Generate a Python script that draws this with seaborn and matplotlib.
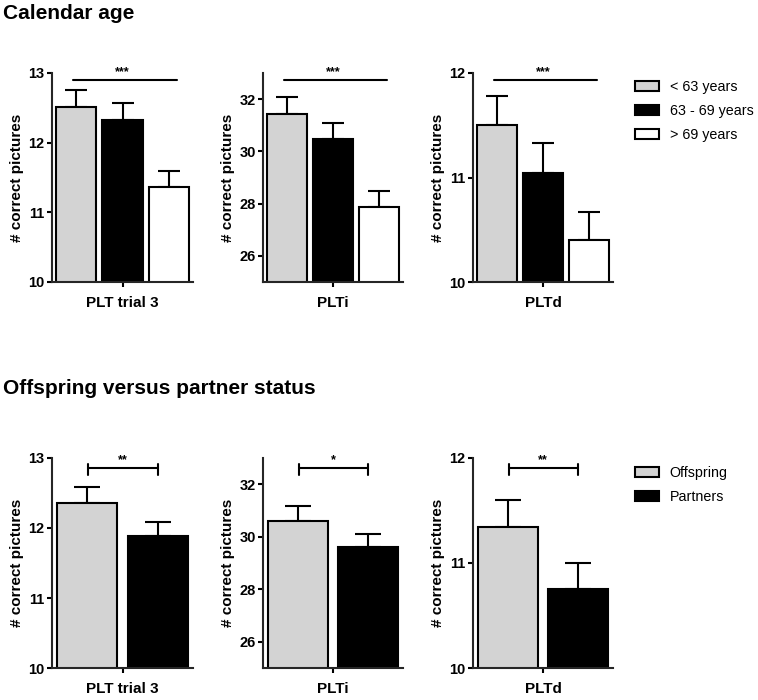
import matplotlib
matplotlib.use("Agg")
import matplotlib.pyplot as plt
import matplotlib.patches as mpatches
import seaborn as sns
import pandas as pd

# ---------------- data ----------------
tests = ["PLT trial 3", "PLTi", "PLTd"]

age_groups = ["< 63 years", "63 - 69 years", "> 69 years"]
age_colors = ["#D3D3D3", "#000000", "#FFFFFF"]
age_trial3_mean = [12.51, 12.33, 11.37]
age_trial3_sem = [0.25, 0.24, 0.22]
age_plti_mean = [31.44, 30.47, 27.86]
age_plti_sem = [0.66, 0.63, 0.61]
age_pltd_mean = [11.50, 11.04, 10.40]
age_pltd_sem = [0.28, 0.29, 0.27]
age_sig = ["***", "***", "***"]

status_groups = ["Offspring", "Partners"]
status_colors = ["#D3D3D3", "#000000"]
status_trial3_mean = [12.35, 11.88]
status_trial3_sem = [0.23, 0.21]
status_plti_mean = [30.60, 29.59]
status_plti_sem = [0.57, 0.51]
status_pltd_mean = [11.34, 10.75]
status_pltd_sem = [0.26, 0.25]
status_sig = ["**", "*", "**"]

ylims = [(10, 13), (25, 33), (10, 12)]
yticks = [[10, 11, 12, 13], [26, 28, 30, 32], [10, 11, 12]]

titles = ["Calendar age", "Offspring versus partner status"]

# ---------------- style ----------------
sns.set_theme(style="ticks")
plt.rcParams["font.family"] = ["Liberation Sans", "DejaVu Sans"]
plt.rcParams["axes.linewidth"] = 1.5
plt.rcParams["text.color"] = "black"
plt.rcParams["axes.labelcolor"] = "black"

W, H = 758, 700
fig = plt.figure(figsize=(W / 100, H / 100), dpi=100)


def add_ax(x0, y0, x1, y1):
    return fig.add_axes([x0 / W, 1 - y1 / H, (x1 - x0) / W, (y1 - y0) / H])


cols = [(52, 193), (263, 403), (473, 613)]
rows = [(73, 282), (457.7, 668.3)]

age_means = [age_trial3_mean, age_plti_mean, age_pltd_mean]
age_sems = [age_trial3_sem, age_plti_sem, age_pltd_sem]
status_means = [status_trial3_mean, status_plti_mean, status_pltd_mean]
status_sems = [status_trial3_sem, status_plti_sem, status_pltd_sem]


def panel(ax, test, groups, colors, means, sems, ylim, ticks, gap, capsize, xl):
    df = pd.DataFrame({"test": [test] * len(groups), "group": groups, "value": means})
    sns.barplot(data=df, x="test", y="value", hue="group", hue_order=groups,
                palette=dict(zip(groups, colors)), edgecolor="black", linewidth=1.5,
                errorbar=None, gap=gap, width=0.8, legend=False, ax=ax, zorder=2)
    for cont, s in zip(ax.containers, sems):
        for bar in cont:
            xc = bar.get_x() + bar.get_width() / 2
            h = bar.get_height()
            ax.errorbar([xc], [h], yerr=[[0], [s]], fmt="none", ecolor="black",
                        elinewidth=1.5, capsize=capsize, capthick=1.5, zorder=1)
    ax.set_ylim(*ylim)
    ax.set_yticks(ticks)
    ax.set_xlim(-xl, xl)
    ax.set_xlabel("")
    ax.set_ylabel("# correct pictures", fontsize=11, fontweight="bold", labelpad=3)
    sns.despine(ax=ax)
    ax.tick_params(axis="both", length=3.8, width=1.5, labelsize=10.5, pad=1.5,
                   colors="black")
    ax.tick_params(axis="x", pad=6, labelsize=11)
    for lab in ax.get_xticklabels() + ax.get_yticklabels():
        lab.set_fontweight("bold")
    ax.set_facecolor("white")


for i, test in enumerate(tests):
    # top row: calendar age
    ax = add_ax(cols[i][0], rows[0][0], cols[i][1], rows[0][1])
    panel(ax, test, age_groups, age_colors, age_means[i], age_sems[i],
          ylims[i], yticks[i], 0.13, 8, 0.403)
    ax.plot([0.15, 0.887], [0.967, 0.967], transform=ax.transAxes, color="black",
            lw=1.5, clip_on=False)
    ax.text(0.5, 0.975, age_sig[i], transform=ax.transAxes, ha="center", va="bottom",
            fontsize=9, fontweight="bold")

    # bottom row: offspring vs partners
    ax2 = add_ax(cols[i][0], rows[1][0], cols[i][1], rows[1][1])
    panel(ax2, test, status_groups, status_colors, status_means[i], status_sems[i],
          ylims[i], yticks[i], 0.15, 9.5, 0.40)
    ax2.plot([0.255, 0.752], [0.951, 0.951], transform=ax2.transAxes, color="black",
             lw=1.5, clip_on=False)
    for xe in (0.255, 0.752):
        ax2.plot([xe, xe], [0.918, 0.972], transform=ax2.transAxes, color="black",
                 lw=1.5, clip_on=False)
    ax2.text(0.5, 0.962, status_sig[i], transform=ax2.transAxes, ha="center",
             va="bottom", fontsize=9, fontweight="bold")

# legends
h1 = [mpatches.Patch(facecolor=c, edgecolor="black", linewidth=1.5, label=g)
      for g, c in zip(age_groups, age_colors)]
fig.legend(handles=h1, loc="upper left", bbox_to_anchor=(629 / W, 1 - 74 / H),
           frameon=False, fontsize=10.3, handlelength=1.7, handleheight=0.7,
           handletextpad=0.75, labelspacing=0.72, borderaxespad=0)
h2 = [mpatches.Patch(facecolor=c, edgecolor="black", linewidth=1.5, label=g)
      for g, c in zip(status_groups, status_colors)]
fig.legend(handles=h2, loc="upper left", bbox_to_anchor=(629 / W, 1 - 460 / H),
           frameon=False, fontsize=10.3, handlelength=1.7, handleheight=0.7,
           handletextpad=0.75, labelspacing=0.72, borderaxespad=0)

# section titles
fig.text(3 / W, 1 - 19 / H, titles[0], fontsize=15, fontweight="bold", va="baseline")
fig.text(3 / W, 1 - 394 / H, titles[1], fontsize=15, fontweight="bold", va="baseline")

fig.savefig("out.png", dpi=100, facecolor="white")
